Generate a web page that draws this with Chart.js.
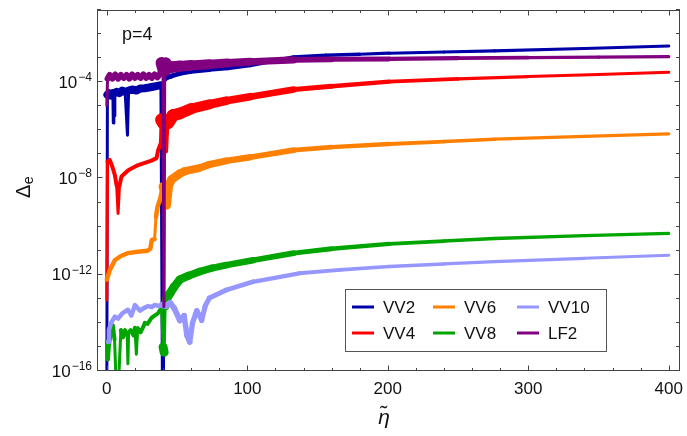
<!DOCTYPE html>
<html>
<head>
<meta charset="utf-8">
<style>
  body { margin: 0; background: #fff; }
</style>
</head>
<body>
<canvas id="energy-chart" width="687" height="436"></canvas>
<script src="https://cdn.jsdelivr.net/npm/chart.js@4.4.0/dist/chart.umd.min.js"></script>
<script>
// values (eta, Delta_e)
var vv2X = [0, 0.4, 1.5, 3, 4.3, 4.6, 5, 5.3, 5.7, 7, 9, 11, 13, 14.7, 15.5, 18, 21, 24, 27, 30, 33, 36, 38.5, 39.6, 40.3, 41, 43, 46, 52, 60, 73, 86, 102, 120, 133, 156, 180, 201, 240, 276, 340, 400];
var vv2Y = [1e-17, 3e-5, 3.5e-5, 2.8e-5, 3.5e-5, 2e-6, 3e-5, 4e-6, 3.5e-5, 4e-5, 3.5e-5, 4.5e-5, 4e-5, 6.3e-7, 4.5e-5, 5e-5, 4.5e-5, 5.5e-5, 5.6e-5, 6e-5, 6.5e-5, 7e-5, 7.5e-5, 1e-17, 1e-17, 1.3e-4, 1.6e-4, 1.8e-4, 2.3e-4, 2.8e-4, 3.3e-4, 3.8e-4, 5e-4, 7.9e-4, 1.12e-3, 1.32e-3, 1.45e-3, 1.6e-3, 1.8e-3, 2e-3, 2.5e-3, 3.2e-3];

var vv4X = [0, 0.5, 2.1, 4, 5.7, 7, 8, 9, 10.4, 15.2, 22.3, 31.8, 35.4, 36.5, 38, 39, 40.5, 41.5, 42.5, 43.5, 47, 52, 60, 73, 85, 102, 133, 160, 201, 250, 300, 350, 400];
var vv4Y = [9e-14, 5e-8, 5.9e-8, 3e-8, 1.4e-8, 5e-9, 3.5e-10, 5e-9, 1.2e-8, 2.2e-8, 3.6e-8, 5.5e-8, 7e-8, 1.5e-7, 2.5e-7, 2.7e-6, 2e-6, 2.5e-6, 1.3e-7, 2e-6, 4.2e-6, 5e-6, 7.9e-6, 1.2e-5, 1.7e-5, 2.5e-5, 5e-5, 6.8e-5, 1.05e-4, 1.38e-4, 1.72e-4, 2.1e-4, 2.6e-4];

var vv6X = [0, 2, 5.7, 10, 15, 22, 29, 31, 32, 34, 35, 36, 38, 40, 41, 42.5, 44, 46, 52, 55.5, 65, 73, 85, 102, 133, 160, 201, 240, 276, 340, 400];
var vv6Y = [6.3e-13, 1.5e-12, 4e-12, 6e-12, 7.9e-12, 9e-12, 1e-11, 1.2e-11, 2.8e-11, 3e-11, 2.5e-10, 6.3e-10, 1.5e-9, 4.6e-9, 3e-9, 7.9e-10, 5e-9, 9e-9, 1.6e-8, 2e-8, 2.6e-8, 3.8e-8, 5.4e-8, 7.6e-8, 1.5e-7, 2e-7, 2.7e-7, 3.4e-7, 4.3e-7, 5.6e-7, 7.1e-7];

var vv8X = [0, 0.8, 1.4, 2.5, 4.3, 5.5, 6.5, 8.5, 10, 11.5, 13, 14.5, 15, 15.5, 17, 19, 20, 21, 22, 24, 26, 27, 29, 31.8, 34, 36.4, 38, 39, 40, 40.8, 41.5, 42.5, 45, 48, 52, 58, 66, 75, 85, 104, 133, 160, 201, 240, 276, 340, 400];
var vv8Y = [1.7e-15, 3e-16, 1e-15, 3e-15, 7.9e-15, 2e-15, 5e-17, 5e-17, 5e-15, 2.5e-15, 5e-15, 3e-15, 2e-16, 4e-15, 5e-15, 3e-15, 6.3e-15, 5e-16, 6e-15, 4e-15, 7e-15, 1e-14, 9e-15, 1.6e-14, 2e-14, 2.5e-14, 3.5e-14, 4.4e-14, 1e-15, 6e-16, 5e-14, 1e-13, 1.7e-13, 3.2e-13, 6.3e-13, 9e-13, 1.35e-12, 1.9e-12, 2.5e-12, 4e-12, 7.9e-12, 1.2e-11, 1.9e-11, 2.5e-11, 3.2e-11, 4.2e-11, 5.2e-11];

var vv10X = [0.9, 1.5, 3, 5.7, 8, 11, 15, 17.5, 20, 23.7, 26, 29.4, 32, 34, 37, 39, 42, 45, 48, 52, 55, 57, 59, 61, 64, 66, 67.5, 70, 73, 85, 104, 137, 166, 201, 240, 276, 340, 400];
var vv10Y = [1.6e-15, 5e-15, 1e-14, 1.8e-14, 1.5e-14, 2.5e-14, 3.5e-14, 2e-14, 5.5e-14, 3.2e-14, 4e-14, 5e-14, 4.5e-14, 5.5e-14, 5e-14, 5.5e-14, 5e-14, 6.8e-14, 4e-14, 1.26e-14, 2e-14, 3e-15, 1.6e-15, 1e-14, 3.2e-14, 2e-14, 1.26e-14, 5e-14, 1.07e-13, 2.3e-13, 5.1e-13, 1.15e-12, 1.6e-12, 2.2e-12, 2.8e-12, 3.5e-12, 4.8e-12, 6.5e-12];

var lf2X = [0, 0.5, 2, 4, 6, 8, 10, 12, 14, 16, 18, 20, 22, 24, 26, 28, 30, 32, 34, 36, 38, 39, 40, 40.6, 41.2, 42, 43, 46, 52, 60, 73, 86, 102, 133, 160, 201, 250, 300, 350, 400];
var lf2Y = [1.1e-5, 1.4e-4, 2e-4, 1.4e-4, 2.1e-4, 1.4e-4, 2e-4, 1.5e-4, 2e-4, 1.4e-4, 2.1e-4, 1.5e-4, 2e-4, 1.5e-4, 2.1e-4, 1.5e-4, 2e-4, 1.5e-4, 2.1e-4, 1.6e-4, 2.2e-4, 6.3e-4, 4e-4, 4.7e-14, 3e-4, 6e-4, 4e-4, 4.2e-4, 4.6e-4, 5e-4, 5.6e-4, 6.3e-4, 7.1e-4, 8.5e-4, 8.9e-4, 9.3e-4, 1e-3, 1.05e-3, 1.1e-3, 1.15e-3];

var xTicks = [0, 100, 200, 300, 400];
var yTickExps = [-16, -12, -8, -4];

function pts(xs, ys) {
  return xs.map(function (x, i) { return {x: x, y: ys[i]}; });
}

// thick noisy band at small eta, thin line later, thin for vertical jumps
function widthFor(early, extra, k) {
  return function (c) {
    var dx = Math.abs(c.p1.x - c.p0.x), dy = Math.abs(c.p1.y - c.p0.y);
    if (dy > 4 * dx + 15) return 3;
    var x = c.p0.parsed.x;
    if (x < 39) return early;
    return 3 + extra * Math.exp(-(x - 40) / k);
  };
}

function ds(label, xs, ys, color, early, extra, k) {
  return {
    label: label,
    data: pts(xs, ys),
    borderColor: color,
    backgroundColor: color,
    borderWidth: 3,
    borderCapStyle: 'round',
    borderJoinStyle: 'round',
    pointRadius: 0,
    fill: false,
    tension: 0,
    clip: 0,
    segment: { borderWidth: widthFor(early, extra, k) }
  };
}

var colors = {
  VV2: 'rgb(0,0,168)',
  VV4: 'rgb(255,0,0)',
  VV6: 'rgb(255,128,0)',
  VV8: 'rgb(0,165,0)',
  VV10: 'rgb(150,150,255)',
  LF2: 'rgb(128,0,128)'
};

function sup(ctx, base, exp, right, y) {
  ctx.font = '12px "Liberation Sans", Arial, sans-serif';
  var ew = ctx.measureText(exp).width;
  ctx.textAlign = 'left';
  ctx.textBaseline = 'alphabetic';
  ctx.fillText(exp, right - ew, y - 1);
  ctx.font = '17px "Liberation Sans", Arial, sans-serif';
  ctx.textAlign = 'right';
  ctx.textBaseline = 'middle';
  ctx.fillText(base, right - ew - 1, y + 1);
}

var framePlugin = {
  id: 'frame',
  afterDraw: function (chart) {
    var ctx = chart.ctx, a = chart.chartArea;
    var xs = chart.scales.x, ys = chart.scales.y;
    ctx.save();
    ctx.strokeStyle = '#444';
    ctx.lineWidth = 1;
    ctx.strokeRect(a.left + 0.5, a.top + 0.5, a.right - a.left - 1, a.bottom - a.top - 1);
    ctx.beginPath();
    for (var v = 0; v <= 400; v += 20) {
      var px = Math.round(xs.getPixelForValue(v)) + 0.5;
      var len = v % 100 === 0 ? 5.5 : 3;
      ctx.moveTo(px, a.bottom); ctx.lineTo(px, a.bottom - len);
      ctx.moveTo(px, a.top); ctx.lineTo(px, a.top + len);
    }
    for (var e = -16; e <= -1; e++) {
      var py = Math.round(ys.getPixelForValue(Math.pow(10, e))) - 0.5;
      var l2 = e % 4 === 0 ? 5.5 : 4;
      ctx.moveTo(a.left, py); ctx.lineTo(a.left + l2, py);
      ctx.moveTo(a.right, py); ctx.lineTo(a.right - l2, py);
    }
    ctx.stroke();

    ctx.fillStyle = '#111';
    ctx.font = '17px "Liberation Sans", Arial, sans-serif';
    ctx.textAlign = 'center';
    ctx.textBaseline = 'middle';
    xTicks.forEach(function (t) {
      ctx.fillText(String(t), xs.getPixelForValue(t), 389);
    });
    yTickExps.forEach(function (e) {
      sup(ctx, '10', '\u2212' + Math.abs(e), a.left - 5, ys.getPixelForValue(Math.pow(10, e)));
    });

    // axis titles
    ctx.font = 'italic 21px "Liberation Sans", Arial, sans-serif';
    ctx.textAlign = 'center';
    ctx.textBaseline = 'middle';
    ctx.fillText('\u03b7\u0303', 384, 418);

    ctx.save();
    ctx.translate(24, 198);
    ctx.rotate(-Math.PI / 2);
    ctx.textAlign = 'left';
    ctx.textBaseline = 'middle';
    ctx.font = '20px "Liberation Sans", Arial, sans-serif';
    ctx.fillText('\u0394', 0, 0);
    var dw = ctx.measureText('\u0394').width;
    ctx.font = '14px "Liberation Sans", Arial, sans-serif';
    ctx.fillText('e', dw + 0.5, 5);
    ctx.restore();

    // panel label
    ctx.font = '18px "Liberation Sans", Arial, sans-serif';
    ctx.textAlign = 'left';
    ctx.fillText('p=4', 122, 35);

    // legend box
    var bx = 345, by = 289, bw = 261, bh = 62;
    ctx.fillStyle = '#fff';
    ctx.fillRect(bx, by, bw, bh);
    ctx.strokeStyle = '#555';
    ctx.strokeRect(bx + 0.5, by + 0.5, bw, bh);
    var layout = [['VV2', 'VV6', 'VV10'], ['VV4', 'VV8', 'LF2']];
    var colX = [352, 433, 517];
    var rowY = [307, 333];
    ctx.font = '17px "Liberation Sans", Arial, sans-serif';
    ctx.textBaseline = 'middle';
    ctx.lineWidth = 3;
    layout.forEach(function (row, r) {
      row.forEach(function (name, c) {
        ctx.strokeStyle = colors[name];
        ctx.beginPath();
        ctx.moveTo(colX[c], rowY[r]);
        ctx.lineTo(colX[c] + 22, rowY[r]);
        ctx.stroke();
        ctx.fillStyle = '#111';
        ctx.fillText(name, colX[c] + 31, rowY[r] + 1);
      });
    });
    ctx.restore();
  }
};

new Chart(document.getElementById('energy-chart'), {
  type: 'line',
  data: {
    datasets: [
      ds('LF2', lf2X, lf2Y, colors.LF2, 6, 9, 80),
      ds('VV10', vv10X, vv10Y, colors.VV10, 4.5, 3, 80),
      ds('VV8', vv8X, vv8Y, colors.VV8, 4, 6, 80),
      ds('VV6', vv6X, vv6Y, colors.VV6, 4.5, 6, 80),
      ds('VV4', vv4X, vv4Y, colors.VV4, 4, 10, 60),
      ds('VV2', vv2X, vv2Y, colors.VV2, 8, 2, 60)
    ]
  },
  options: {
    responsive: false,
    animation: false,
    layout: { padding: { left: 97, right: 7, top: 10, bottom: 65 } },
    scales: {
      x: { type: 'linear', display: false, min: -7, max: 408 },
      y: { type: 'logarithmic', display: false, min: 1e-16, max: 1e-1 }
    },
    plugins: {
      legend: { display: false },
      tooltip: { enabled: false }
    }
  },
  plugins: [framePlugin]
});
</script>
</body>
</html>
